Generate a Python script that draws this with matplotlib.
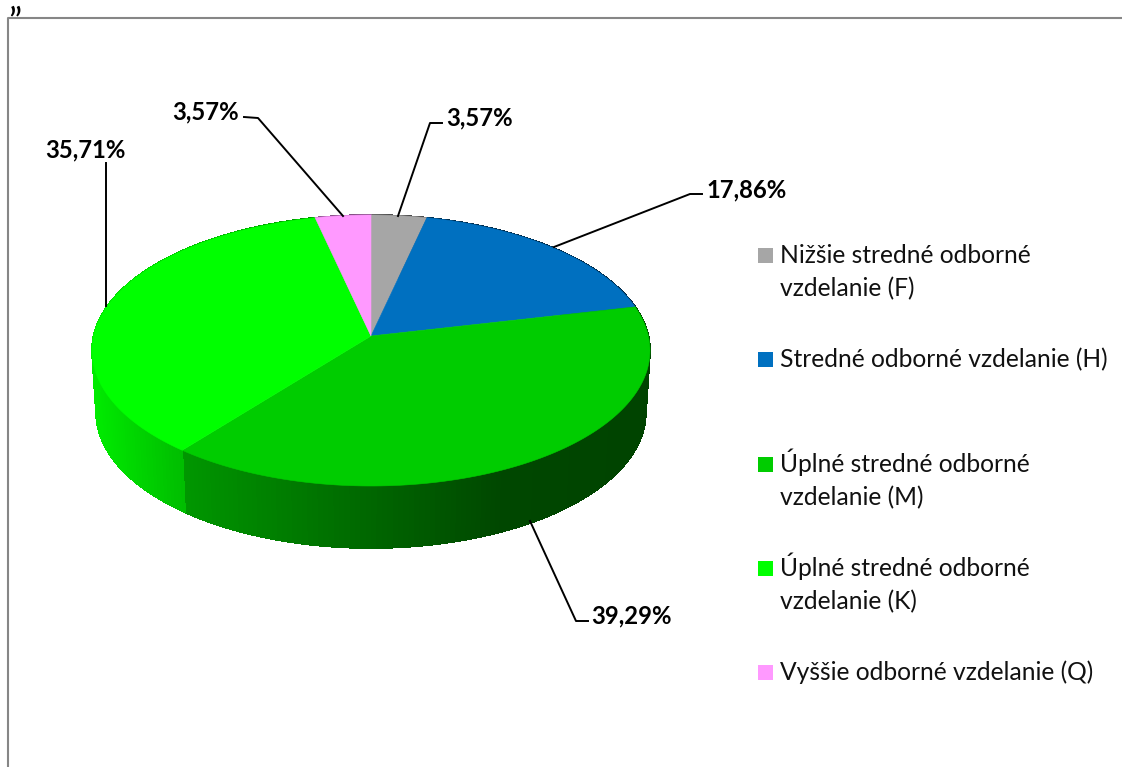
import matplotlib
matplotlib.use("Agg")
import matplotlib.pyplot as plt
import numpy as np
from matplotlib.collections import PolyCollection
from matplotlib.patches import Polygon, Rectangle

categories = [
    "Nižšie stredné odborné\nvzdelanie (F)",
    "Stredné odborné vzdelanie (H)",
    "Úplné stredné odborné\nvzdelanie (M)",
    "Úplné stredné odborné\nvzdelanie (K)",
    "Vyššie odborné vzdelanie (Q)",
]
values = [3.57, 17.86, 39.29, 35.71, 3.57]
colors = ["#A6A6A6", "#0070C0", "#00CC00", "#00FF00", "#FF99FF"]

# pie geometry, in image pixels
cx, cy = 371, 336
rim_x, rim_y, persp = 277.4, 133.95, 0.107
depth = 62
depth_shrink = 0.985

# label centre and leader line for each slice
label_pos = [(480, 117.5), (746.5, 189.5), (631.5, 615.5), (85.5, 149.5), (206, 111.5)]
leaders = [
    [(398, 216), (430, 123), (442, 123)],
    [(554, 247), (690, 194), (702, 194)],
    [(530, 521), (576, 621), (588, 621)],
    [(106, 306), (106, 163)],
    [(343, 216), (258, 118), (244, 117)],
]
legend_y = [248, 352, 457, 561, 665]
line_gap = 33
font = ["Lato", "DejaVu Sans"]


def project(deg):
    a = np.radians(deg)
    u, v = np.sin(a), np.cos(a)
    w = 1 + persp * v
    return cx + rim_x * u / w, cy - rim_y * v / w


def shade(x):
    return np.interp(x, [92, 182, 371, 500, 650], [0.92, 0.74, 0.5, 0.35, 0.33])


fig = plt.figure(figsize=(11.22, 7.67), dpi=100)
ax = fig.add_axes([0, 0, 1, 1])
ax.set_xlim(0, 1122)
ax.set_ylim(767, 0)
ax.axis("off")

edges = np.concatenate([[0], np.cumsum(values)]) / sum(values) * 360

# side of the disc first, the top covers whatever is behind it
for i, color in enumerate(colors):
    deg = np.arange(edges[i], edges[i + 1] + 1, 1.0)
    deg[-1] = edges[i + 1]
    x, y = project(deg)
    xb = cx + (x - cx) * depth_shrink
    yb = y + depth
    base = np.array(matplotlib.colors.to_rgb(color))
    quads = []
    face = []
    for j in range(len(deg) - 1):
        quads.append([(x[j], y[j]), (x[j + 1], y[j + 1]), (xb[j + 1], yb[j + 1]), (xb[j], yb[j])])
        face.append(base * shade((x[j] + x[j + 1]) / 2))
    ax.add_collection(PolyCollection(quads, facecolors=face, edgecolors=face, linewidths=0.6,
                                     antialiaseds=False, zorder=2))

for i, color in enumerate(colors):
    deg = np.linspace(edges[i], edges[i + 1], 120)
    x, y = project(deg)
    pts = np.column_stack([np.r_[cx, x], np.r_[cy, y]])
    ax.add_patch(Polygon(pts, closed=True, facecolor=color, edgecolor=color, linewidth=0.4, zorder=3))

# leaders and percent labels
for i, v in enumerate(values):
    lx, ly = zip(*leaders[i])
    ax.plot(lx, ly, color="black", linewidth=1.4, zorder=4, solid_joinstyle="round")
    ax.text(label_pos[i][0], label_pos[i][1], f"{v:.2f}%".replace(".", ","), family=font,
            fontsize=17.2, fontweight="bold", ha="center", va="center", color="black", zorder=5)

# legend
for i, name in enumerate(categories):
    ax.add_patch(Rectangle((758, legend_y[i]), 15, 15, facecolor=colors[i], edgecolor="none"))
    for k, line in enumerate(name.split("\n")):
        ax.text(780, legend_y[i] + 15 + k * line_gap, line, family=font, fontsize=17.7,
                ha="left", va="baseline", color="#111111")

# frame cut off by the page, and the stray quote above it
ax.plot([8, 8, 1122], [767, 18, 18], color="#868686", linewidth=1.5, zorder=1)
ax.text(8, 34, "”", family=font, fontsize=26, ha="left", va="baseline", color="black")

fig.savefig("out.png", dpi=100)
